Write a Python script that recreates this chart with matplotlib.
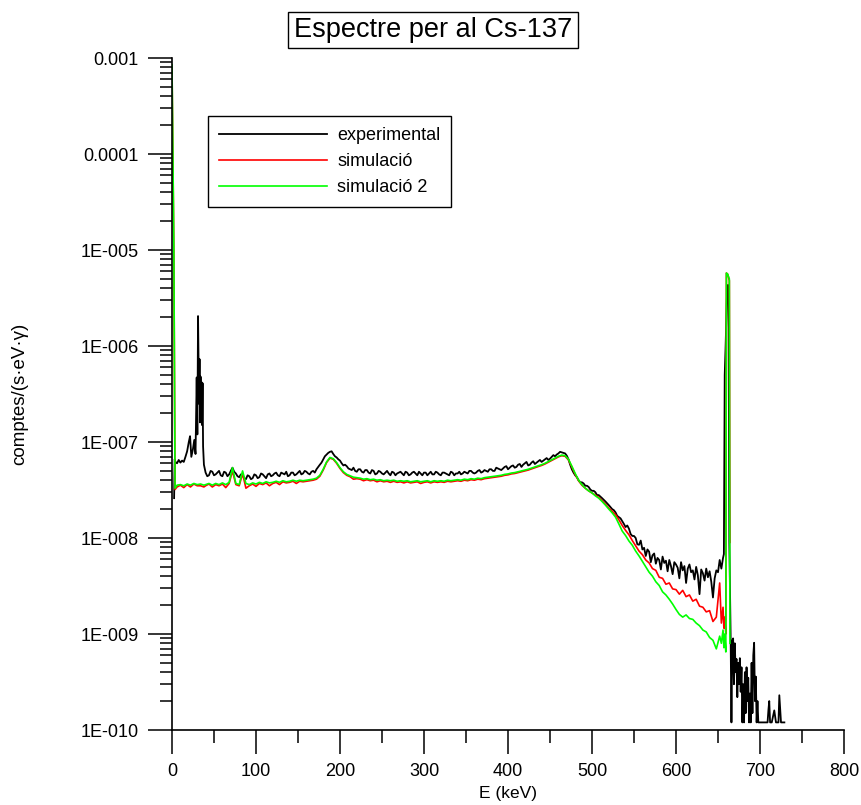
import numpy as np
import matplotlib
matplotlib.use("Agg")
import matplotlib.pyplot as plt
from matplotlib.ticker import FixedLocator, FuncFormatter, MultipleLocator, NullFormatter

plt.rcParams['font.family'] = ['Liberation Sans', 'DejaVu Sans']

# ---------------- data (counts/(s·eV·γ) in units of 1e-9) ----------------
# common mid-range channel energies (keV)
E_mid = np.arange(40, 653, 4)
# extra experimental channels between those (keV)
E_mid_b = np.arange(42, 651, 4)

# experimental
E_exp_low = [2.5, 3.2, 4, 6, 8, 10, 12, 14, 16, 18, 20, 21.5, 23, 25, 26.5, 28, 29.4, 30.2,
             31, 31.6, 32.2, 32.8, 33.4, 34, 34.6, 35.2, 35.8, 36.4, 37, 38]
exp_low = [26, 66, 62, 60, 65, 61, 64, 62, 70, 80, 100, 115, 70, 85, 105, 75, 470, 120,
           2050, 760, 250, 730, 160, 480, 300, 420, 150, 410, 90, 58]
exp_mid = [48, 45, 49, 46, 50, 44, 48, 46, 54, 47,
           43, 45, 41, 44, 42, 45, 43, 46, 42, 47,
           45, 48, 44, 47, 49, 45, 48, 46, 50, 47,
           49, 46, 50, 52, 58, 66, 74, 79, 75, 69,
           64, 57, 56, 52, 54, 49, 52, 48, 51, 47,
           50, 47, 49, 46, 50, 45, 48, 47, 49, 45,
           48, 46, 49, 45, 47, 48, 45, 49, 46, 48,
           45, 48, 46, 49, 45, 47, 46, 49, 47, 50,
           47, 50, 48, 51, 49, 52, 50, 53, 51, 55,
           52, 56, 54, 58, 55, 60, 57, 61, 59, 63,
           62, 66, 65, 70, 71, 76, 78, 76, 66, 52,
           45, 40, 38, 35, 34, 31, 30, 28, 26, 24,
           22, 20, 18.5, 16.5, 15, 13, 12.5, 10.5, 10, 8.5,
           7.6, 6.5, 7.2, 6.6, 5.4, 5.9, 6.4, 5.8, 5.9, 4.2,
           5.3, 3.8, 4.6, 3.4, 5.3, 4.6, 5.0, 2.6, 4.3, 4.8,
           4.5, 2.4, 4.6, 5.9]
exp_mid_b = [44, 50, 45, 48, 45, 49, 44, 50, 49, 44,
             46, 42, 45, 41, 46, 42, 47, 44, 46, 44,
             47, 45, 48, 46, 44, 48, 45, 48, 46, 50,
             47, 49, 48, 55, 61, 71, 77, 80, 71, 66,
             60, 58, 53, 51, 50, 52, 49, 51, 48, 51,
             46, 50, 47, 48, 47, 49, 45, 48, 47, 49,
             45, 48, 47, 49, 45, 48, 47, 46, 49, 46,
             48, 47, 45, 48, 47, 49, 47, 48, 50, 48,
             48, 51, 49, 50, 52, 50, 54, 52, 53, 56,
             54, 57, 55, 59, 58, 62, 58, 63, 61, 65,
             64, 68, 67, 73, 74, 79, 77, 72, 58, 48,
             43, 38, 37, 35, 32, 31, 28, 27, 25, 23,
             21, 19.5, 17, 16, 14, 13.5, 11, 10.5, 8.6, 9.4,
             7.9, 7.6, 5.6, 6.9, 6.2, 4.7, 5.5, 4.5, 5.1, 5.6,
             4.9, 5.6, 5.1, 4.8, 4.4, 3.7, 4.1, 4.7, 3.6, 3.9,
             3.5, 3.8, 4.4]
E_exp_high = [654, 656, 657, 658, 659, 661, 662.5, 663.5, 664.2, 665, 666, 667, 668, 669, 670,
              671, 672, 673, 674, 675, 676, 677, 678, 679, 680, 681, 682, 683, 684, 685,
              686, 687, 688, 689, 690, 691, 692, 693, 694, 695, 696, 697, 698, 705, 709,
              710, 711, 712, 714, 717, 719, 720, 722, 723, 725, 729]
exp_high = [4.8, 6.2, 6.8, 500, 950, 4300, 4300, 9, 3.4, 1.0, 0.12, 0.85, 0.9, 0.3, 0.8,
            0.4, 0.55, 0.22, 0.5, 0.3, 0.56, 0.25, 0.45, 0.12, 0.3, 0.12, 0.4, 0.15, 0.45, 0.2,
            0.35, 0.12, 0.24, 0.12, 0.5, 0.15, 0.6, 0.81, 0.2, 0.36, 0.12, 0.2, 0.12, 0.12, 0.12,
            0.16, 0.2, 0.12, 0.12, 0.16, 0.12, 0.12, 0.12, 0.23, 0.12, 0.12]

# simulació
E_sim_low = [0, 2.2, 3.6, 6, 10, 14, 18, 22, 26, 30, 34, 38]
sim_low = [800000, 10000, 32, 34, 35.5, 33.5, 36, 34, 36.5, 35, 35, 34]
sim_mid = [35, 36.5, 34, 36, 35, 36.5, 33.5, 37, 50, 36,
           35, 47, 33, 35, 36.5, 34.5, 37, 36, 37.5, 35,
           37, 38, 36, 38.5, 37.5, 38, 39, 37, 39, 38.5,
           39, 39.5, 40, 41, 44, 51, 61, 68, 66, 60,
           53, 48, 45, 43.5, 41, 41.5, 41, 39.5, 40.5, 39.5,
           40, 38.5, 39.5, 38.5, 39, 38, 39, 38, 38.5, 37.5,
           38.5, 37.5, 38, 38.5, 37, 38, 38.5, 37.5, 38.5, 38,
           38.5, 38, 39, 38.5, 39, 39.5, 39, 40, 39.5, 40.5,
           40, 41, 40.5, 41.5, 42, 42.5, 43, 43.5, 44, 45,
           45.5, 46.5, 47, 48, 49, 50, 51, 52.5, 54, 55.5,
           57, 59, 61.5, 64, 67, 70, 72, 71, 65, 55,
           46, 39.5, 35.5, 33, 31, 29.5, 28, 26.5, 24.5, 22.5,
           20.5, 19, 17.5, 15.5, 13.5, 12, 10.8, 9.4, 8.3, 7.3,
           6.7, 5.9, 5.5, 4.8, 4.6, 3.9, 3.8, 3.3, 3.4, 2.95,
           2.9, 2.6, 2.85, 2.45, 2.55, 2.2, 2.3, 1.95, 1.9, 1.7,
           1.75, 1.35, 1.5, 3.4]
E_sim_high = [654, 656, 657, 658, 659.3, 660, 661.5, 663.5, 664.2]
sim_high = [1.3, 1.9, 1.15, 1.5, 1.0, 5750, 5600, 4800, 9]

# simulació 2
E_sim2_low = [0, 2.2, 3.6, 6, 10, 14, 18, 22, 26, 30, 34, 38]
sim2_low = [850000, 11000, 33, 35.5, 36, 35, 36.5, 35.5, 37, 36, 36.5, 35.5]
sim2_mid = [36, 37, 35.5, 37, 36, 37.5, 36, 38, 54, 37,
            36, 50, 37, 36, 37.5, 36.5, 38, 37, 38.5, 37.5,
            38, 39, 38, 39.5, 38.5, 39, 40, 39, 40, 39.5,
            40, 40.5, 41, 42, 45, 52, 62, 69, 67, 61,
            54, 49, 46, 44.5, 43, 42.5, 42, 41, 41.5, 40.5,
            41, 40, 40.5, 39.5, 40, 39.5, 40, 39, 39.5, 39,
            39.5, 38.5, 39, 39.5, 38.5, 39, 39.5, 38.5, 39.5, 39,
            39.5, 39, 40, 39.5, 40, 40.5, 40, 41, 40.5, 41.5,
            41, 42, 41.5, 42.5, 43, 43.5, 44, 44.5, 45, 46,
            46.5, 47.5, 48, 49, 50, 51, 52, 53.5, 55, 56.5,
            58, 60, 62.5, 65, 68, 71, 73, 72, 66, 56,
            47, 40, 36, 33, 31, 29.5, 27.5, 26, 24, 22,
            20, 18.3, 16.5, 14, 11.8, 10.6, 9.3, 8.4, 7.3, 6.5,
            5.7, 5.0, 4.4, 4.0, 3.5, 3.2, 2.75, 2.55, 2.3, 2.05,
            1.8, 1.6, 1.5, 1.58, 1.45, 1.42, 1.3, 1.22, 1.1, 1.05,
            0.92, 0.86, 0.7, 0.95]
E_sim2_high = [654, 656, 657, 658, 659.3, 660, 661.5, 663.5, 664.2]
sim2_high = [0.8, 1.1, 0.72, 1.0, 0.65, 5750, 5600, 5000, 0.8]

series_labels = ['experimental', 'simulació', 'simulació 2']
series_colors = ['black', '#ff0000', '#00ff00']

y_major = [1e-3, 1e-4, 1e-5, 1e-6, 1e-7, 1e-8, 1e-9, 1e-10]
y_major_labels = ['0.001', '0.0001', '1E-005', '1E-006', '1E-007', '1E-008', '1E-009', '1E-010']

# ---------------- build series ----------------
UNIT = 1e-9


def build(e_parts, v_parts):
    e = np.concatenate(e_parts).astype(float)
    v = np.concatenate(v_parts).astype(float) * UNIT
    order = np.argsort(e, kind='stable')
    return e[order], v[order]


data = [build([E_exp_low, E_mid, E_mid_b, E_exp_high], [exp_low, exp_mid, exp_mid_b, exp_high]),
        build([E_sim_low, E_mid, E_sim_high], [sim_low, sim_mid, sim_high]),
        build([E_sim2_low, E_mid, E_sim2_high], [sim2_low, sim2_mid, sim2_high])]
series_lw = [1.3, 1.2, 1.2]

# ---------------- figure ----------------
W, H = 861, 805
fig = plt.figure(figsize=(W / 100, H / 100), dpi=100)
ax = fig.add_axes([172 / W, 75 / H, 672 / W, 672 / H])

for (e, v), lab, col, lw in zip(data, series_labels, series_colors, series_lw):
    ax.plot(e, v, color=col, lw=lw, label=lab)

ax.set_yscale('log')
ax.set_xlim(0, 800)
ax.set_ylim(1e-10, 1e-3)

for s in ['top', 'right']:
    ax.spines[s].set_visible(False)
for s in ['left', 'bottom']:
    ax.spines[s].set_linewidth(1.2)

ax.xaxis.set_major_locator(MultipleLocator(100))
ax.xaxis.set_minor_locator(MultipleLocator(50))
ax.yaxis.set_major_locator(FixedLocator(y_major))
minors = [m * d for d in y_major[1:] for m in range(2, 10)]
ax.yaxis.set_minor_locator(FixedLocator(minors))
lab_map = dict(zip(y_major, y_major_labels))
ax.yaxis.set_major_formatter(FuncFormatter(
    lambda v, p: next((t for k, t in lab_map.items() if abs(np.log10(v) - np.log10(k)) < 1e-6), '')))
ax.yaxis.set_minor_formatter(NullFormatter())

ax.tick_params(which='major', direction='out', length=17, width=1.1, labelsize=13, pad=7)
ax.tick_params(which='minor', direction='out', length=9, width=1.1)

ax.set_xlabel('E (keV)', fontsize=12.5, labelpad=4)
fig.text(20 / W, 1 - 394 / H, 'comptes/(s·eV·γ)', rotation=90, ha='center', va='center', fontsize=13.5)

fig.text(433 / W, 1 - 30 / H, 'Espectre per al Cs-137', ha='center', va='center', fontsize=19.5,
         bbox=dict(boxstyle='square,pad=0.2', fc='white', ec='black', lw=1.0))

leg = ax.legend(loc='upper left', bbox_to_anchor=((208 - 172) / 672, (730 - 116) / 672),
                borderaxespad=0, fontsize=13, handlelength=6.0, handletextpad=0.55,
                borderpad=0.6, labelspacing=0.5, fancybox=False, framealpha=1,
                edgecolor='black')
leg.get_frame().set_linewidth(1.0)

fig.savefig('out.png', dpi=100)
